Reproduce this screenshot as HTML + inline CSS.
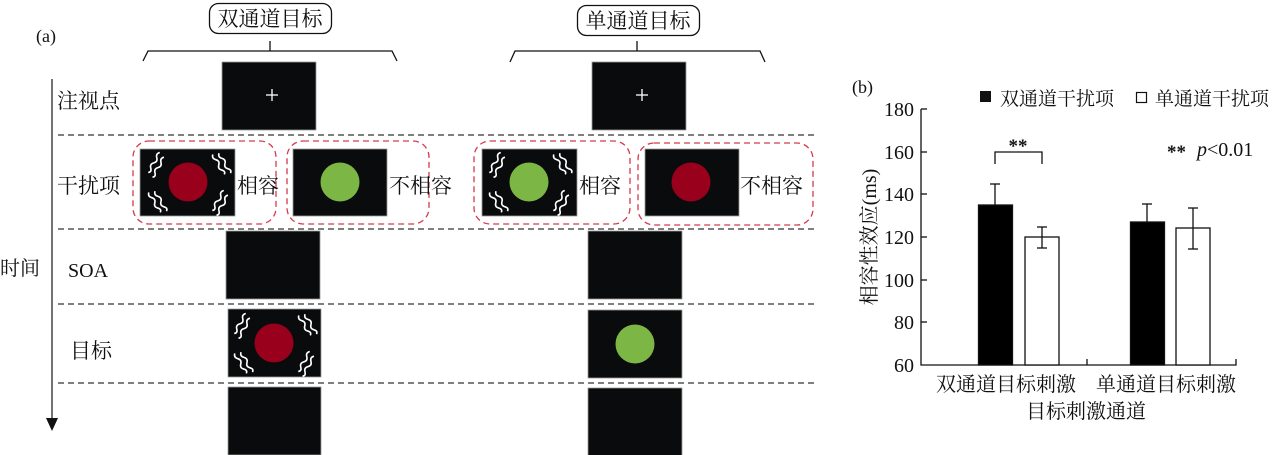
<!DOCTYPE html>
<html><head><meta charset="utf-8"><style>
html,body{margin:0;padding:0;background:#fff;width:1279px;height:455px;overflow:hidden}
svg{display:block}
text{font-family:"Liberation Serif","Noto Serif CJK SC","Noto Sans CJK SC",serif;fill:#111}
</style></head><body>
<svg width="1279" height="455" viewBox="0 0 1279 455" xmlns="http://www.w3.org/2000/svg">
<defs>
<g id="sq" fill="none" stroke="#fff" stroke-width="1.6">
<path d="M-2,-11 q-3,3 0,6 q3,3 0,6 q-3,3 0,6 q3,3 0,5"/>
<path d="M4,-9 q-3,3 0,6 q3,3 0,6 q-3,3 0,6 q3,3 0,5"/>
</g>
<g id="sqs">
<use href="#sq" transform="translate(-32,-19) rotate(30)"/>
<use href="#sq" transform="translate(32,-19) rotate(-30)"/>
<use href="#sq" transform="translate(-32,19) rotate(-30)"/>
<use href="#sq" transform="translate(32,19) rotate(30)"/>
</g>
</defs>
<text x="36" y="42" font-size="18">(a)</text>
<rect x="209.5" y="3.5" width="122" height="30" rx="9" fill="#fff" stroke="#111" stroke-width="1.3"/>
<text x="270" y="26" font-size="21" text-anchor="middle" font-family="Liberation Sans,Noto Sans CJK SC,sans-serif">双通道目标</text>
<polyline points="143,61 148,51 392,51 397,61" fill="none" stroke="#111" stroke-width="1.3"/>
<line x1="270" y1="41" x2="270" y2="51" stroke="#111" stroke-width="1.3"/>
<rect x="577.5" y="5.5" width="122" height="30" rx="9" fill="#fff" stroke="#111" stroke-width="1.3"/>
<text x="638" y="28" font-size="21" text-anchor="middle" font-family="Liberation Sans,Noto Sans CJK SC,sans-serif">单通道目标</text>
<polyline points="510,62 515,51 760,51 765,62" fill="none" stroke="#111" stroke-width="1.3"/>
<line x1="637" y1="41" x2="637" y2="51" stroke="#111" stroke-width="1.3"/>
<line x1="52" y1="79" x2="52" y2="422" stroke="#444" stroke-width="1.5"/>
<polygon points="46,418 58,418 52,431" fill="#111"/>
<text x="0" y="275" font-size="20" font-family="Liberation Sans,Noto Sans CJK SC,sans-serif">时间</text>
<g stroke="#333" stroke-width="1.3" stroke-dasharray="6,4">
<line x1="58" y1="135" x2="815" y2="135"/>
<line x1="58" y1="229" x2="815" y2="229"/>
<line x1="58" y1="304" x2="815" y2="304"/>
<line x1="58" y1="383" x2="815" y2="383"/>
</g>
<g font-size="21" font-family="Liberation Sans,Noto Sans CJK SC,sans-serif">
<text x="57" y="108">注视点</text>
<text x="57" y="193">干扰项</text>
<text x="68" y="277" font-family="Liberation Serif,serif" font-size="20">SOA</text>
<text x="70" y="358">目标</text>
</g>
<g stroke="#999" stroke-width="0.8" fill="#0a0b0d">
<rect x="222" y="62" width="94" height="68"/>
<rect x="592" y="62" width="94" height="68"/>
</g>
<g stroke="#fff" stroke-width="1.3">
<line x1="266" y1="95" x2="278" y2="95"/><line x1="272" y1="89" x2="272" y2="101"/>
<line x1="636" y1="95" x2="648" y2="95"/><line x1="642" y1="89" x2="642" y2="101"/>
</g>
<g fill="none" stroke="#d43a4a" stroke-width="1.3" stroke-dasharray="6,4">
<rect x="133" y="141" width="143" height="83" rx="16"/>
<rect x="287" y="141" width="142" height="83" rx="16"/>
<rect x="474" y="141" width="156" height="83" rx="16"/>
<rect x="638" y="143" width="175" height="82" rx="16"/>
</g>
<g stroke="#999" stroke-width="0.8" fill="#0a0b0d">
<rect x="140" y="149" width="95" height="67"/>
<rect x="293" y="149" width="94" height="67"/>
<rect x="482" y="149" width="95" height="67"/>
<rect x="645" y="149" width="94" height="67"/>
<rect x="226" y="231" width="94" height="68"/>
<rect x="588" y="231" width="94" height="68"/>
<rect x="228" y="309" width="93" height="68"/>
<rect x="588" y="310" width="94" height="68"/>
<rect x="228" y="387" width="93" height="68"/>
<rect x="588" y="388" width="94" height="68"/>
</g>
<circle cx="188" cy="182" r="19.5" fill="#98001c"/>
<circle cx="340" cy="182" r="19.5" fill="#7cb745"/>
<circle cx="529" cy="182" r="19.5" fill="#7cb745"/>
<circle cx="691" cy="182" r="19.5" fill="#98001c"/>
<circle cx="274" cy="343" r="19.5" fill="#98001c"/>
<circle cx="635" cy="344" r="19.5" fill="#7cb745"/>
<use href="#sqs" transform="translate(188,182)"/>
<use href="#sqs" transform="translate(529,182)"/>
<use href="#sqs" transform="translate(274,343)"/>
<g font-size="21" font-family="Liberation Sans,Noto Sans CJK SC,sans-serif">
<text x="237" y="193">相容</text>
<text x="389" y="193">不相容</text>
<text x="579" y="193">相容</text>
<text x="740" y="193">不相容</text>
</g>
<text x="852" y="93" font-size="18">(b)</text>
<rect x="980" y="91" width="11" height="11" fill="#111"/>
<text x="1000" y="105" font-size="19" font-family="Liberation Sans,Noto Sans CJK SC,sans-serif">双通道干扰项</text>
<rect x="1136.5" y="92.5" width="10" height="10" fill="#fff" stroke="#111" stroke-width="1.2"/>
<text x="1155" y="105" font-size="19" font-family="Liberation Sans,Noto Sans CJK SC,sans-serif">单通道干扰项</text>
<g stroke="#111" stroke-width="1.3" fill="none">
<polyline points="921,109 921,365 1236,365 1236,359"/>
<line x1="1087" y1="365" x2="1087" y2="359"/>
<line x1="921" y1="109" x2="927" y2="109"/>
<line x1="921" y1="152" x2="927" y2="152"/>
<line x1="921" y1="194" x2="927" y2="194"/>
<line x1="921" y1="237" x2="927" y2="237"/>
<line x1="921" y1="280" x2="927" y2="280"/>
<line x1="921" y1="322" x2="927" y2="322"/>
</g>
<g font-size="20" text-anchor="end">
<text x="914" y="116">180</text>
<text x="914" y="159">160</text>
<text x="914" y="201">140</text>
<text x="914" y="244">120</text>
<text x="914" y="287">100</text>
<text x="914" y="329">80</text>
<text x="914" y="372">60</text>
</g>
<text transform="translate(876,237) rotate(-90)" font-size="20" text-anchor="middle">相容性效应(ms)</text>
<g stroke="#111" stroke-width="1.3">
<rect x="978.5" y="205" width="34" height="160" fill="#000"/>
<rect x="1025" y="237" width="34" height="128" fill="#fff"/>
<rect x="1130.5" y="222" width="34" height="143" fill="#000"/>
<rect x="1176" y="228" width="34" height="137" fill="#fff"/>
<line x1="995" y1="184" x2="995" y2="205"/><line x1="990" y1="184" x2="1000" y2="184"/>
<line x1="1042" y1="227" x2="1042" y2="248"/><line x1="1037" y1="227" x2="1047" y2="227"/><line x1="1037" y1="248" x2="1047" y2="248"/>
<line x1="1147" y1="204" x2="1147" y2="222"/><line x1="1142" y1="204" x2="1152" y2="204"/>
<line x1="1193" y1="208" x2="1193" y2="249"/><line x1="1188" y1="208" x2="1198" y2="208"/><line x1="1188" y1="249" x2="1198" y2="249"/>
<polyline points="995,164 995,152 1042,152 1042,164" fill="none"/>
</g>
<text x="1018" y="152" font-size="19" text-anchor="middle" font-weight="bold">**</text>
<text x="1167" y="158" font-size="19" font-weight="bold">**</text>
<text x="1197" y="156" font-size="20"><tspan font-style="italic">p</tspan>&lt;0.01</text>
<g font-size="20" font-family="Liberation Sans,Noto Sans CJK SC,sans-serif" text-anchor="middle">
<text x="1006" y="391">双通道目标刺激</text>
<text x="1166" y="391">单通道目标刺激</text>
<text x="1086" y="418">目标刺激通道</text>
</g>
</svg>
</body></html>
